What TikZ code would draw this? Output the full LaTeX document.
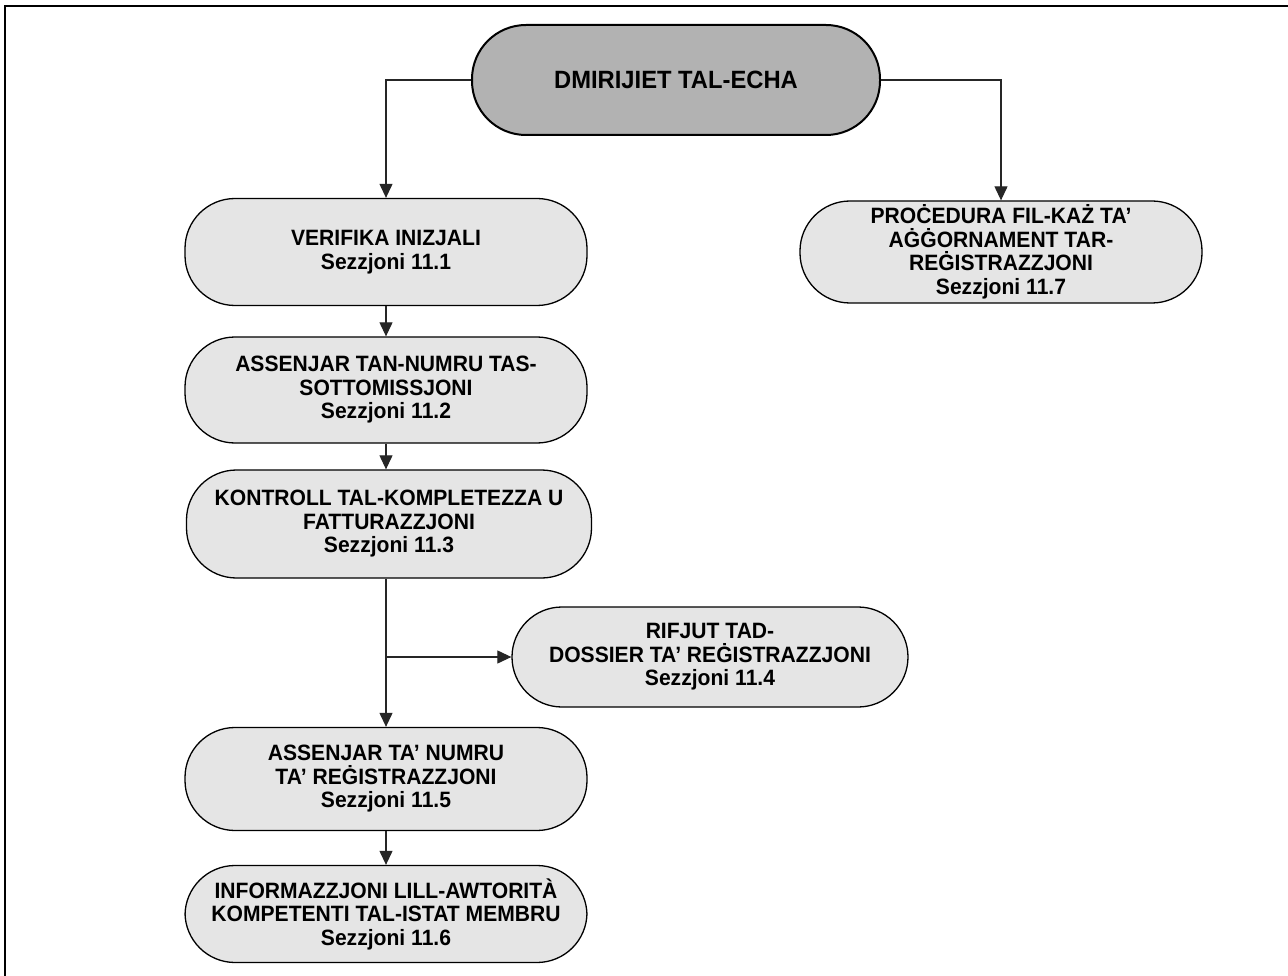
\documentclass[tikz,border=0pt]{standalone}
\usepackage{fontspec}
\setmainfont{Liberation Sans}[FakeStretch=0.95]
\usetikzlibrary{arrows.meta}
\begin{document}
\begin{tikzpicture}[x=1pt,y=1pt,
  proc/.style={draw=black, line width=1.3pt, fill=black!10, rounded corners=50pt,
    minimum width=402pt, minimum height=105pt, align=center, inner sep=0pt,
    font=\bfseries\fontsize{22.2}{23.5}\selectfont},
  startbox/.style={draw=black, line width=2pt, fill=black!30, rounded corners=54pt,
    minimum width=408pt, minimum height=110pt, align=center, inner sep=0pt,
    font=\bfseries\fontsize{25}{28}\selectfont},
  conn/.style={draw=black!85, line width=1.1pt, -{Triangle[length=14pt,width=13pt]}}]
\useasboundingbox (0,0) rectangle (1288,-976);
\fill[white] (0,0) rectangle (1288,-976);
\draw[line width=2.4pt] (5,-1100) -- (5,-6) -- (1400,-6);

\node[startbox] (top) at (676,-80) {DMIRIJIET TAL-ECHA};
\node[proc, minimum height=107pt] (n1) at (386,-252) {VERIFIKA INIZJALI\\Sezzjoni 11.1};
\node[proc, minimum height=106pt] (n2) at (386,-390) {ASSENJAR TAN-NUMRU TAS-\\SOTTOMISSJONI\\Sezzjoni 11.2};
\node[proc, minimum height=108pt, minimum width=405pt] (n3) at (389,-524) {KONTROLL TAL-KOMPLETEZZA U\\FATTURAZZJONI\\Sezzjoni 11.3};
\node[proc, minimum height=100pt, minimum width=396pt] (n4) at (710,-657) {RIFJUT TAD-\\DOSSIER TA’ REĠISTRAZZJONI\\Sezzjoni 11.4};
\node[proc, minimum height=103pt] (n5) at (386,-779) {ASSENJAR TA’ NUMRU\\TA’ REĠISTRAZZJONI\\Sezzjoni 11.5};
\node[proc, minimum height=97pt] (n6) at (386,-914) {INFORMAZZJONI LILL-AWTORITÀ\\KOMPETENTI TAL-ISTAT MEMBRU\\Sezzjoni 11.6};
\node[proc, minimum height=102pt] (n7) at (1001,-252) {PROĊEDURA FIL-KAŻ TA’\\AĠĠORNAMENT TAR-\\REĠISTRAZZJONI\\Sezzjoni 11.7};

\coordinate (br) at (386,-657);
\draw[conn] (top.west) -| (n1.north);
\draw[conn] (top.east) -| (n7.north);
\draw[conn] (n1.south) -- (n2.north);
\draw[conn] (n2.south) -- (n2.south |- n3.north);
\draw[conn] (n3.south -| n5.north) -- (n5.north);
\draw[conn] (br) -- (n4.west);
\draw[conn] (n5.south) -- (n6.north);
\end{tikzpicture}
\end{document}
